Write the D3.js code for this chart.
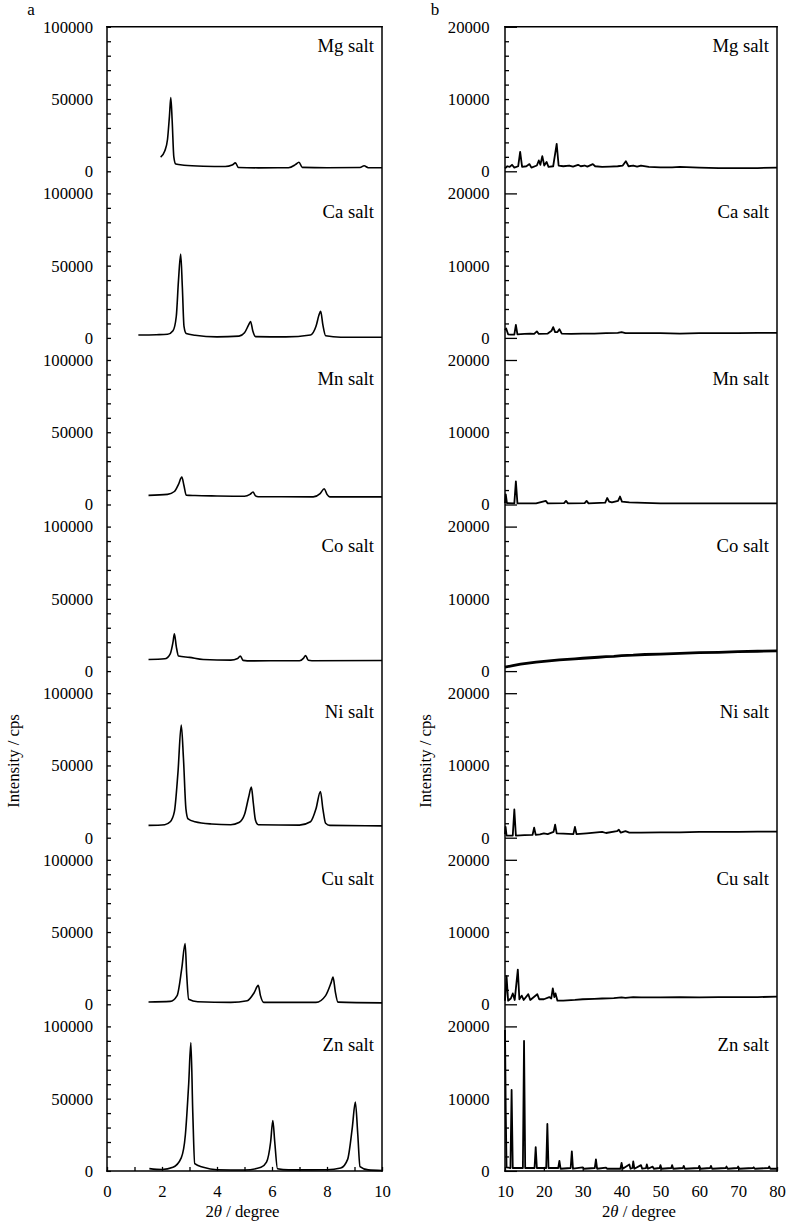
<!DOCTYPE html>
<html><head><meta charset="utf-8">
<style>
body{margin:0;background:#fff}
svg{display:block}
text{font-family:"Liberation Serif","Times New Roman","DejaVu Serif",serif;fill:#000}
</style></head>
<body>
<svg width="786" height="1223"></svg>
<script src="https://d3js.org/d3.v7.min.js"></script>
<script>
const salts = ["Mg salt", "Ca salt", "Mn salt", "Co salt", "Ni salt", "Cu salt", "Zn salt"];

// panel a: 2θ 0–10 degree, [2θ, cps]
const aMg = [[1.95,9800],[2.1,14000],[2.2,22000],[2.27,38000],[2.32,51000],[2.37,35000],[2.43,10000],[2.5,5000],[2.8,4200],[3.5,3500],[4.3,3300],[4.55,4300],[4.67,5800],[4.78,2600],[5.5,2400],[6.6,2500],[6.85,4600],[6.98,6300],[7.1,2700],[8.0,2500],[9.2,2600],[9.35,3800],[9.5,2500],[10,2500]];
const aCa = [[1.14,2000],[1.8,2200],[2.2,2500],[2.4,5000],[2.52,15000],[2.6,40000],[2.68,58000],[2.74,35000],[2.8,8000],[2.88,3000],[3.2,1800],[4.0,700],[4.8,1200],[5.0,3500],[5.15,9000],[5.22,11400],[5.3,5000],[5.4,900],[6.5,700],[7.4,2000],[7.6,8000],[7.72,16500],[7.77,18400],[7.85,9000],[7.95,1500],[8.5,500],[10,500]];
const aMn = [[1.51,6300],[2.2,7000],[2.45,9000],[2.6,14000],[2.72,19000],[2.8,13000],[2.88,6500],[3.2,6200],[4.0,5900],[5.0,5700],[5.2,7000],[5.31,8600],[5.4,6000],[5.5,5400],[7.5,5300],[7.75,7500],[7.9,10900],[8.0,7000],[8.1,5300],[10,5300]];
const aCo = [[1.51,8000],[2.1,8500],[2.3,12000],[2.4,20000],[2.45,25900],[2.52,17000],[2.6,10500],[3.0,9500],[3.5,8000],[4.5,7600],[4.75,8700],[4.85,10400],[4.95,7400],[5.1,7100],[7.0,7200],[7.15,9000],[7.22,10800],[7.32,7500],[7.45,7200],[10,7300]];
const aNi = [[1.51,8500],[2.1,9000],[2.3,11000],[2.45,18000],[2.58,45000],[2.7,78000],[2.78,55000],[2.87,20000],[2.95,13000],[3.2,11000],[3.8,9500],[4.5,9000],[4.8,10500],[5.0,16000],[5.15,28000],[5.25,35000],[5.32,24000],[5.4,12000],[5.5,9000],[7.0,8700],[7.4,11000],[7.6,20000],[7.76,32000],[7.85,20000],[7.95,10000],[8.1,8500],[10,8200]];
const aCu = [[1.51,1600],[2.3,2000],[2.55,6000],[2.72,25000],[2.84,42000],[2.9,20000],[2.97,3500],[3.3,1800],[4.5,1300],[5.1,2500],[5.35,8000],[5.5,13100],[5.58,6000],[5.7,1300],[7.6,1300],[7.95,6000],[8.15,15000],[8.22,18800],[8.3,9000],[8.4,1500],[10,1000]];
const aZn = [[1.54,1600],[2.0,1000],[2.4,2500],[2.7,9000],[2.85,25000],[2.97,60000],[3.05,88800],[3.12,40000],[3.19,5000],[3.5,2500],[4.0,800],[5.0,600],[5.6,2500],[5.8,6000],[5.95,20000],[6.03,34900],[6.1,20000],[6.2,1500],[6.6,700],[8.0,800],[8.5,2000],[8.75,8000],[8.92,30000],[9.03,47700],[9.12,25000],[9.2,3000],[9.5,700],[10,300]];

// panel b: 2θ 10–80 degree, [2θ, cps]
const bMg = [[10,400],[10.6,700],[11.2,600],[11.8,900],[12.4,500],[13.4,700],[13.9,2700],[14.4,600],[15.5,700],[16.3,1000],[16.8,500],[18.2,800],[18.7,1500],[19.1,900],[19.6,2100],[20.1,800],[20.7,1300],[21.2,600],[22.4,700],[23.3,3800],[23.8,800],[25,700],[26.5,800],[27.5,650],[28.8,900],[29.5,700],[30.5,800],[31.2,650],[32.6,1000],[33.2,700],[35,600],[37,650],[39,700],[40.3,800],[41.1,1400],[41.8,700],[43,800],[44,650],[45,800],[47,600],[50,550],[53,550],[55,600],[60,500],[65,450],[70,450],[75,450],[80,500]];
const bCa = [[10,1100],[10.3,1300],[10.8,500],[11.5,450],[12.4,450],[12.8,1800],[13.2,500],[15,550],[16.5,600],[17.5,550],[18.2,900],[18.7,550],[21,600],[22,1000],[22.4,1500],[22.9,800],[23.5,800],[24,1200],[24.6,600],[27,550],[30,600],[33,600],[36,650],[39,700],[40,800],[41,650],[45,650],[50,650],[55,600],[60,650],[65,650],[70,650],[75,700],[80,700]];
const bMn = [[10,200],[10.2,1400],[10.5,200],[12.4,150],[12.8,3200],[13.2,150],[18,150],[20.5,500],[21,150],[25.2,200],[25.7,500],[26.2,150],[30.5,200],[31,500],[31.5,150],[35.8,250],[36.3,900],[36.8,400],[37.5,300],[39.1,500],[39.6,1100],[40.1,400],[42,300],[44,250],[50,150],[60,150],[70,150],[80,150]];
const bCo = [[10,550],[12,750],[14,950],[16,1100],[18,1250],[20,1350],[22,1450],[24,1550],[26,1620],[28,1700],[30,1780],[32,1850],[34,1920],[36,2000],[38,2050],[40,2150],[43,2200],[46,2300],[50,2350],[55,2450],[60,2550],[65,2600],[70,2700],[75,2750],[80,2800]];
const bNi = [[10,500],[10.15,1500],[10.4,300],[12,300],[12.4,3900],[12.8,300],[15,350],[17.1,400],[17.5,1400],[17.9,400],[19,450],[20,600],[21,500],[22.5,800],[22.9,1800],[23.3,600],[25,550],[27.6,500],[28,1500],[28.4,500],[31,600],[33,700],[35,800],[36,650],[38.8,900],[39.3,1100],[39.8,700],[41,900],[42,700],[45,700],[50,750],[55,750],[60,800],[65,800],[70,800],[75,850],[80,850]];
const bCu = [[10,500],[10.4,3900],[10.8,500],[11.5,800],[12,1500],[12.5,600],[13.3,4800],[13.7,700],[14.3,1200],[14.8,600],[16,1400],[16.5,600],[18.3,1400],[18.8,700],[20,700],[21.4,1000],[21.9,800],[22.3,2200],[22.7,1000],[23,1500],[23.5,500],[25,500],[28,600],[30,700],[33,750],[35,800],[38,850],[40,950],[41,900],[43,1000],[45,950],[50,950],[55,1000],[60,950],[65,1000],[70,1000],[75,1000],[80,1050]];
const bZn = [[10,19500],[10.2,8000],[10.4,500],[11.4,400],[11.7,11200],[12.0,400],[14.6,400],[14.9,18000],[15.2,400],[17.6,400],[17.9,3300],[18.2,400],[20.6,400],[20.9,6500],[21.2,400],[23.7,400],[24,1400],[24.3,300],[26.9,400],[27.2,2700],[27.5,300],[30,500],[30.3,300],[33.1,400],[33.4,1600],[33.7,300],[36,450],[36.3,300],[39.7,300],[40,1100],[40.3,300],[42,900],[42.3,300],[42.8,400],[43,1300],[43.3,300],[45,800],[45.3,300],[46.3,400],[46.5,900],[46.8,300],[48,600],[48.3,300],[49.8,400],[50,800],[50.3,300],[52.8,400],[53,800],[53.3,300],[55.8,400],[56,700],[56.3,300],[59.8,400],[60,700],[60.3,300],[62.8,400],[63,700],[63.3,300],[66.8,400],[67,600],[67.3,300],[69.8,400],[70,600],[70.3,300],[73.8,400],[74,500],[74.3,300],[77.8,400],[78,600],[78.3,300],[80,300]];

const xTicksA = [0, 2, 4, 6, 8, 10];
const xTicksB = [10, 20, 30, 40, 50, 60, 70, 80];
const yLabelsA = [0, 50000, 100000];
const yLabelsB = [0, 10000, 20000];

const tracesA = [aMg, aCa, aMn, aCo, aNi, aCu, aZn];
const tracesB = [bMg, bCa, bMn, bCo, bNi, bCu, bZn];

const svg = d3.select("svg");
const top0 = 26.8, step = 166.6, ph = 144.5;
const bottom = top0 + 6 * step + ph;

const cols = [
  { x0: 107, x1: 382, xd: [0, 10], ymax: 100000, minor: 10000, traces: tracesA,
    xt: xTicksA, xstep: 1, yl: yLabelsA, tag: "a", tagX: 31, titleX: 14,
    curve: d3.curveMonotoneX, pad: 14, longMajor: false, lw: 1.6 },
  { x0: 505, x1: 777, xd: [10, 80], ymax: 20000, minor: 2000, traces: tracesB,
    xt: xTicksB, xstep: 10, yl: yLabelsB, tag: "b", tagX: 435, titleX: 426,
    curve: d3.curveLinear, pad: 15.5, longMajor: true, lw: 1.8 }
];

cols.forEach(c => {
  const g = svg.append("g");
  const x = d3.scaleLinear().domain(c.xd).range([c.x0, c.x1]);

  c.traces.forEach((tr, i) => {
    const T = top0 + i * step;
    const y = d3.scaleLinear().domain([0, c.ymax]).range([T + ph, T]);

    const ax = g.append("g").attr("transform", `translate(${c.x0},0)`)
      .call(d3.axisLeft(y)
        .tickValues(d3.range(0, c.ymax + 1, c.minor))
        .tickSize(-4).tickSizeOuter(0).tickPadding(c.pad)
        .tickFormat(d => c.yl.includes(d) ? d3.format("d")(d) : ""));
    ax.attr("font-family", null);
    ax.select(".domain").remove();
    ax.selectAll("line").attr("stroke", "#000").attr("stroke-width", 1.3);
    ax.selectAll("text").style("font-size", "16.7px");
    if (c.longMajor) {
      ax.selectAll(".tick").filter(d => d === 0 || d === c.ymax)
        .select("line").attr("x2", 12);
    }

    const line = d3.line().x(d => x(d[0])).y(d => y(d[1])).curve(c.curve);
    g.append("path").datum(tr)
      .attr("fill", "none").attr("stroke", "#000")
      .attr("stroke-width", (c.tag === "b" && i === 3) ? 2.8 : c.lw)
      .attr("stroke-linejoin", "round")
      .attr("d", line);

    g.append("text").attr("x", c.x1 - 8).attr("y", T + 25)
      .attr("text-anchor", "end").style("font-size", "18.7px")
      .text(salts[i]);
  });

  // bottom axis
  const bx = g.append("g").attr("transform", `translate(0,${bottom})`)
    .call(d3.axisBottom(x)
      .tickValues(d3.range(c.xd[0], c.xd[1] + 0.001, c.xstep))
      .tickSize(-4).tickSizeOuter(0).tickPadding(14.5)
      .tickFormat(d => c.xt.includes(d) ? d : ""));
  bx.attr("font-family", null);
  bx.select(".domain").remove();
  bx.selectAll("line").attr("stroke", "#000").attr("stroke-width", 1.3);
  bx.selectAll("text").style("font-size", "16.7px");

  // frame
  const fr = [[c.x0, top0, c.x0, bottom], [c.x1, top0, c.x1, bottom],
              [c.x0, top0, c.x1, top0], [c.x0, bottom, c.x1, bottom]];
  g.selectAll(".frame").data(fr).join("line")
    .attr("x1", d => d[0]).attr("y1", d => d[1]).attr("x2", d => d[2]).attr("y2", d => d[3])
    .attr("stroke", "#000").attr("stroke-width", 1.5).attr("stroke-linecap", "square");

  // titles
  const xt = g.append("text").attr("x", (c.x0 + c.x1) / 2 - 2).attr("y", 1217)
    .attr("text-anchor", "middle").style("font-size", "16.7px");
  xt.append("tspan").text("2");
  xt.append("tspan").style("font-style", "italic").text("θ");
  xt.append("tspan").text(" / degree");

  g.append("text").attr("transform", `translate(${c.titleX + 5},761) rotate(-90)`)
    .attr("text-anchor", "middle").style("font-size", "16.7px")
    .text("Intensity / cps");

  g.append("text").attr("x", c.tagX).attr("y", 15).attr("text-anchor", "middle")
    .style("font-size", "17px").text(c.tag);
});
</script>
</body></html>
